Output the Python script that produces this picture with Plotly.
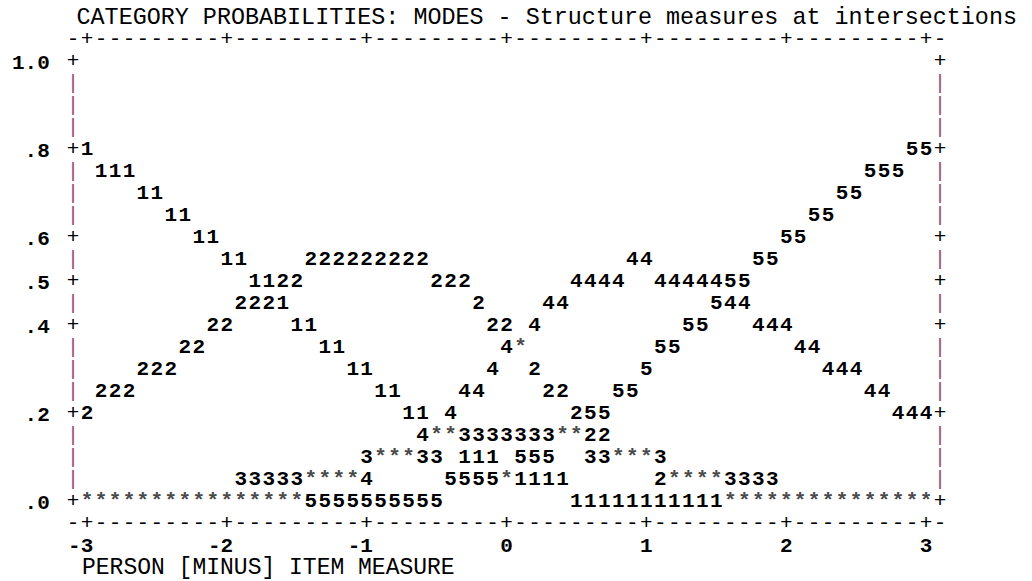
import plotly.graph_objects as go

TITLE = "CATEGORY PROBABILITIES: MODES - Structure measures at intersections"
X_TITLE = "PERSON [MINUS] ITEM MEASURE"

X_TICK_VALS = [-3, -2, -1, 0, 1, 2, 3]
X_TICK_TEXT = ["-3", "-2", "-1", "0", "1", "2", "3"]
Y_TICK_VALS = [1.0, 0.8, 0.6, 0.5, 0.4, 0.2, 0.0]
Y_TICK_TEXT = ["1.0", ".8", ".6", ".5", ".4", ".2", ".0"]

X_STEP = 0.1    # one printed column of the plot
Y_STEP = 0.05   # one printed line of the plot

# Printed category characters, per probability line:
# (measure where the run of characters starts, characters)
ROWS = [
    (0.80, [(-3.0, "1"), (2.9, "55")]),
    (0.75, [(-2.9, "111"), (2.6, "555")]),
    (0.70, [(-2.6, "11"), (2.4, "55")]),
    (0.65, [(-2.4, "11"), (2.2, "55")]),
    (0.60, [(-2.2, "11"), (2.0, "55")]),
    (0.55, [(-2.0, "11"), (-1.4, "222222222"), (0.9, "44"), (1.8, "55")]),
    (0.50, [(-1.8, "1122"), (-0.5, "222"), (0.5, "4444"), (1.1, "4444455")]),
    (0.45, [(-1.9, "2221"), (-0.2, "2"), (0.3, "44"), (1.5, "544")]),
    (0.40, [(-2.1, "22"), (-1.5, "11"), (-0.1, "22 4"), (1.3, "55"), (1.8, "444")]),
    (0.35, [(-2.3, "22"), (-1.3, "11"), (0.0, "4*"), (1.1, "55"), (2.1, "44")]),
    (0.30, [(-2.6, "222"), (-1.1, "11"), (-0.1, "4  2"), (1.0, "5"), (2.3, "444")]),
    (0.25, [(-2.9, "222"), (-0.9, "11"), (-0.3, "44"), (0.3, "22"), (0.8, "55"), (2.6, "44")]),
    (0.20, [(-3.0, "2"), (-0.7, "11"), (-0.4, "4"), (0.5, "255"), (2.8, "444")]),
    (0.15, [(-0.6, "4**3333333**22")]),
    (0.10, [(-1.0, "3***33 111 555  33***3")]),
    (0.05, [(-1.9, "33333****4"), (-0.4, "5555*1111"), (1.1, "2****3333")]),
    (0.00, [(-3.0, "****************5555555555"), (0.5, "11111111111***************")]),
]

FONT = "Liberation Mono"
FSIZE = 21
TITLE_SIZE = 23.4
XTITLE_SIZE = 23
WEIGHT = "bold"
INK = "#000000"
STAR_INK = "#4a4a4a"
BAR_INK = "#9a527a"

# ---- collect characters per category ----
groups = {}
for p, runs in ROWS:
    for x0, s in runs:
        for k, ch in enumerate(s):
            if ch == " ":
                continue
            g = groups.setdefault(ch, ([], []))
            g[0].append(round(x0 + k * X_STEP, 2))
            g[1].append(p)

fig = go.Figure()
for ch in sorted(groups):
    xs, ys = groups[ch]
    fig.add_trace(go.Scatter(
        x=xs, y=ys, mode="text", text=[ch] * len(xs),
        textposition="middle center",
        textfont=dict(family=FONT, size=FSIZE, weight=WEIGHT,
                      color=STAR_INK if ch == "*" else INK),
        cliponaxis=False, showlegend=False, hoverinfo="skip", name=ch,
    ))

# ---- printed frame built from the tick arrays ----
x_lo = X_TICK_VALS[0] - X_STEP
x_hi = X_TICK_VALS[-1] + X_STEP
n_cols = int(round((x_hi - x_lo) / X_STEP)) + 1
y_lo, y_hi = min(Y_TICK_VALS), max(Y_TICK_VALS)
n_rows = int(round((y_hi - y_lo) / Y_STEP)) + 1
y_bot, y_top = y_lo - Y_STEP, y_hi + Y_STEP   # printed border lines

def is_tick(v, ticks):
    return any(abs(v - t) < 1e-6 for t in ticks)

frame_x, frame_y, frame_t, frame_c = [], [], [], []
for i in range(n_rows):
    yv = round(y_hi - i * Y_STEP, 4)
    ch = "+" if is_tick(yv, Y_TICK_VALS) else "|"
    for xv in (x_lo, x_hi):
        frame_x.append(xv); frame_y.append(yv); frame_t.append(ch)
        frame_c.append(INK if ch == "+" else BAR_INK)
for j in range(n_cols):
    xv = round(x_lo + j * X_STEP, 4)
    ch = "+" if is_tick(xv, X_TICK_VALS) else "-"
    for yv in (y_top, y_bot):
        frame_x.append(xv); frame_y.append(yv); frame_t.append(ch); frame_c.append(INK)

fig.add_trace(go.Scatter(
    x=frame_x, y=frame_y, mode="text", text=frame_t, textposition="middle center",
    textfont=dict(family=FONT, size=FSIZE, color=frame_c),
    cliponaxis=False, showlegend=False, hoverinfo="skip",
))

# x axis title printed one line below the tick labels
y_span = y_top - y_bot
fig.add_annotation(
    x=(X_STEP / 2) / (x_hi - x_lo), y=(y_lo - 3 * Y_STEP - y_bot) / y_span,
    xref="paper", yref="paper",
    text=X_TITLE, showarrow=False, xanchor="left", yanchor="middle",
    font=dict(family=FONT, size=XTITLE_SIZE, color=INK),
)

# label right-aligned on its tick column (invisible pad keeps the digit on the tick)
pad = "<span style='color:rgba(0,0,0,0)'>0</span>"
x_ticktext = [t + pad if t.startswith("-") else t for t in X_TICK_TEXT]

W, H = 1032, 581
L, R, T, B = 70, 92, 40, 57
fig.update_layout(
    width=W, height=H,
    margin=dict(l=L, r=R, t=T, b=B, pad=0),
    paper_bgcolor="white", plot_bgcolor="white",
    title=dict(
        text=TITLE, xref="paper", x=(X_STEP / 2) / (x_hi - x_lo) - 0.004, xanchor="left",
        yref="container", y=1 - 16 / H, yanchor="middle",
        font=dict(family=FONT, size=TITLE_SIZE, color=INK),
    ),
    xaxis=dict(
        range=[x_lo, x_hi], showgrid=False, zeroline=False, showline=False,
        tickmode="array", tickvals=X_TICK_VALS, ticktext=x_ticktext,
        ticks="outside", ticklen=2, tickcolor="rgba(0,0,0,0)",
        tickfont=dict(family=FONT, size=FSIZE, weight=WEIGHT, color=INK),
    ),
    yaxis=dict(
        range=[y_bot, y_top], showgrid=False, zeroline=False, showline=False,
        tickmode="array", tickvals=Y_TICK_VALS, ticktext=Y_TICK_TEXT,
        ticks="outside", ticklen=18, tickcolor="rgba(0,0,0,0)",
        tickfont=dict(family=FONT, size=FSIZE, weight=WEIGHT, color=INK),
    ),
)

fig.write_html("out.html", config={"displayModeBar": False},
               post_script="document.body.style.margin='0';")
